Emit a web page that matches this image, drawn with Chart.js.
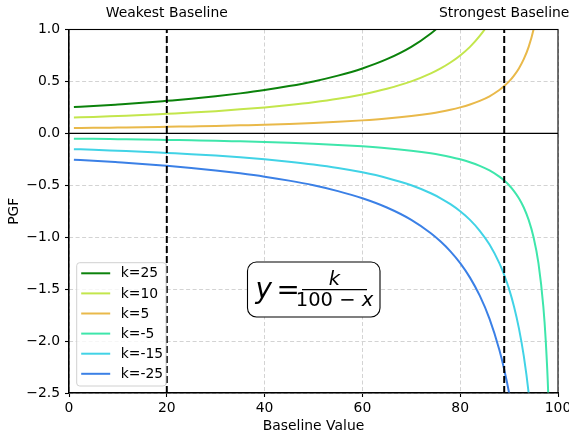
<!DOCTYPE html>
<html><head><meta charset="utf-8">
<script src="https://cdn.jsdelivr.net/npm/chart.js@4/dist/chart.umd.min.js"></script>
<style>html,body{margin:0;padding:0;background:#fff;}#wrap{width:569px;height:438px;}</style>
</head><body><div id="wrap"><canvas id="c" width="569" height="438"></canvas></div>
<script>
// Baseline values (x) sampled along the curves
const xs = [1,5,10,15,20,25,30,35,40,45,50,55,60,65,70,74,76,78,80,82,84,86,88,89,90,91,92,93,94,95,96,97,97.5,98,98.5,99];
// PGF values
const k25  = [0.253,0.263,0.278,0.294,0.313,0.333,0.357,0.385,0.417,0.455,0.5,0.556,0.625,0.714,0.833,0.962,1.042,1.136,1.25,1.389,1.563,1.786,2.083,2.273,2.5,2.778,3.125,3.571,4.167,5,6.25,8.333,10,12.5,16.67,25];
const k10  = [0.152,0.158,0.167,0.176,0.188,0.2,0.214,0.231,0.25,0.273,0.3,0.333,0.375,0.429,0.5,0.577,0.625,0.682,0.75,0.833,0.938,1.071,1.25,1.364,1.5,1.667,1.875,2.143,2.5,3,3.75,5,6,7.5,10,15];
const k5   = [0.051,0.053,0.056,0.059,0.063,0.067,0.071,0.077,0.083,0.091,0.1,0.111,0.125,0.143,0.167,0.192,0.208,0.227,0.25,0.278,0.313,0.357,0.417,0.455,0.5,0.556,0.625,0.714,0.833,1,1.25,1.667,2,2.5,3.333,5];
const km5  = [-0.051,-0.053,-0.056,-0.059,-0.063,-0.067,-0.071,-0.077,-0.083,-0.091,-0.1,-0.111,-0.125,-0.143,-0.167,-0.192,-0.208,-0.227,-0.25,-0.278,-0.313,-0.357,-0.417,-0.455,-0.5,-0.556,-0.625,-0.714,-0.833,-1,-1.25,-1.667,-2,-2.5,-3.333,-5];
const km15 = [-0.152,-0.158,-0.167,-0.176,-0.188,-0.2,-0.214,-0.231,-0.25,-0.273,-0.3,-0.333,-0.375,-0.429,-0.5,-0.577,-0.625,-0.682,-0.75,-0.833,-0.938,-1.071,-1.25,-1.364,-1.5,-1.667,-1.875,-2.143,-2.5,-3,-3.75,-5,-6,-7.5,-10,-15];
const km25 = [-0.253,-0.263,-0.278,-0.294,-0.313,-0.333,-0.357,-0.385,-0.417,-0.455,-0.5,-0.556,-0.625,-0.714,-0.833,-0.962,-1.042,-1.136,-1.25,-1.389,-1.563,-1.786,-2.083,-2.273,-2.5,-2.778,-3.125,-3.571,-4.167,-5,-6.25,-8.333,-10,-12.5,-16.67,-25];
const seriesLabels = ['k=25','k=10','k=5','k=-5','k=-15','k=-25'];
const seriesColors = ['#0b820b','#c3e64c','#e9b94a','#3ee6ab','#41d3e6','#3b80e6'];
const baselineX = [20, 89];
const baselineNames = ['Weakest Baseline','Strongest Baseline'];
const yTicks = [1.0,0.5,0.0,-0.5,-1.0,-1.5,-2.0,-2.5];
const xTicks = [0,20,40,60,80,100];

const FONT = 'DejaVu Sans';
const FS = 13.9;
const allSeries = [k25,k10,k5,km5,km15,km25];
const datasets = allSeries.map((arr,i)=>({
  label: seriesLabels[i],
  data: xs.map((x,j)=>({x:x,y:arr[j]})),
  borderColor: seriesColors[i], borderWidth: 2, pointRadius: 0, cubicInterpolationMode:'monotone', fill:false, order: 2
}));
baselineX.forEach((bx)=>{
  datasets.push({label:'_v', data:[{x:bx,y:yTicks[yTicks.length-1]},{x:bx,y:yTicks[0]}],
    borderColor:'#000', borderWidth:2, borderDash:[7,3], pointRadius:0, order:0});
});
datasets.push({label:'_h', data:[{x:xTicks[0],y:0},{x:xTicks[xTicks.length-1],y:0}],
  borderColor:'#000', borderWidth:1.3, pointRadius:0, order:1});

const zeroPad = s => { s.paddingLeft=0; s.paddingRight=0; s.paddingTop=0; s.paddingBottom=0; };

const overlay = {
  id:'overlay',
  afterDatasetsDraw(chart){
    const ctx=chart.ctx, a=chart.chartArea;
    ctx.save();
    ctx.lineWidth=1.1; ctx.strokeStyle='#000';
    ctx.strokeRect(a.left, a.top, a.right-a.left, a.bottom-a.top);
    ctx.restore();
  },
  afterDraw(chart){
    const ctx=chart.ctx, a=chart.chartArea;
    ctx.save();
    // legend
    const lx=a.left+7.7, ly=a.top+233.2, lw=89.3, lh=123.3;
    ctx.beginPath(); ctx.roundRect(lx,ly,lw,lh,3);
    ctx.fillStyle='rgba(255,255,255,0.8)'; ctx.fill();
    ctx.strokeStyle='#d0d0d0'; ctx.lineWidth=1; ctx.stroke();
    ctx.font = FS+'px "'+FONT+'"'; ctx.textBaseline='middle'; ctx.textAlign='left';
    seriesLabels.forEach((lab,i)=>{
      const y=ly+10.6+i*20.1;
      ctx.beginPath(); ctx.moveTo(lx+4.5,y); ctx.lineTo(lx+33.5,y);
      ctx.strokeStyle=seriesColors[i]; ctx.lineWidth=2; ctx.stroke();
      ctx.fillStyle='#000'; ctx.fillText(lab, lx+44, y+0.5);
    });
    // formula box
    const bx=a.left+178.5, by=a.top+232.5, bw=132.5, bh=55;
    ctx.beginPath(); ctx.roundRect(bx,by,bw,bh,9);
    ctx.fillStyle='#fff'; ctx.fill(); ctx.strokeStyle='#000'; ctx.lineWidth=1.1; ctx.stroke();
    const cy = by+27.6;
    ctx.fillStyle='#000'; ctx.textBaseline='alphabetic';
    ctx.font='italic 27.8px "'+FONT+'"'; ctx.textAlign='left';
    ctx.fillText('y', bx+8, cy+8);
    ctx.font='27.8px "'+FONT+'"';
    ctx.fillText('=', bx+29, cy+9.5);
    // fraction
    const fx0=bx+54.5, fx1=bx+119.5;
    ctx.beginPath(); ctx.moveTo(fx0,cy); ctx.lineTo(fx1,cy); ctx.lineWidth=1.4; ctx.stroke();
    const fmid=(fx0+fx1)/2;
    ctx.font='italic 19.5px "'+FONT+'"'; ctx.textAlign='center';
    ctx.fillText('k', fmid, cy-4.5);
    ctx.textAlign='left';
    ctx.font='19.5px "'+FONT+'"';
    const t1='100', t2=' \u2212 ';
    const w1=ctx.measureText(t1).width, w2=ctx.measureText(t2).width;
    ctx.font='italic 19.5px "'+FONT+'"';
    const w3=ctx.measureText('x').width;
    let sx = fmid-(w1+w2+w3)/2;
    ctx.font='19.5px "'+FONT+'"';
    ctx.fillText(t1, sx, cy+16.5); ctx.fillText(t2, sx+w1, cy+16.5);
    ctx.font='italic 19.5px "'+FONT+'"';
    ctx.fillText('x', sx+w1+w2, cy+16.5);
    ctx.restore();
  }
};

new Chart(document.getElementById('c'), {
  type:'line',
  data:{datasets},
  options:{
    responsive:false, animation:false, devicePixelRatio:1,
    layout:{padding:{left:0,right:11,top:0,bottom:0}},
    plugins:{legend:{display:false}, tooltip:{enabled:false}},
    scales:{
      x:{type:'linear', position:'bottom', min:xTicks[0], max:xTicks[xTicks.length-1],
        afterBuildTicks:(s)=>{ s.ticks = xTicks.map(v=>({value:v})); },
        ticks:{font:{family:FONT,size:FS}, color:'#000', padding:3, maxRotation:0, autoSkip:false, callback:v=>String(v)},
        grid:{color:'#d3d3d3', lineWidth:1, tickColor:'#000', tickLength:4, tickWidth:1.1},
        border:{display:true, color:'#000', width:1.1, dash:[4,2.5]},
        title:{display:true, text:'Baseline Value', font:{family:FONT,size:FS}, color:'#000', padding:{top:0,bottom:3}},
        afterFit:(s)=>{ s.height=45; zeroPad(s); }
      },
      x2:{type:'linear', position:'top', min:xTicks[0], max:xTicks[xTicks.length-1],
        afterBuildTicks:(s)=>{ s.ticks = baselineX.map(v=>({value:v})); },
        ticks:{font:{family:FONT,size:FS}, color:'#000', padding:8, maxRotation:0, minRotation:0, autoSkip:false,
          callback:(v)=>{ const i=baselineX.indexOf(v); return i>=0?baselineNames[i]:''; }},
        grid:{display:false, drawTicks:false, drawOnChartArea:false},
        border:{display:false},
        afterFit:(s)=>{ s.height=29.5; zeroPad(s); }
      },
      y:{type:'linear', min:yTicks[yTicks.length-1], max:yTicks[0],
        afterBuildTicks:(s)=>{ s.ticks = yTicks.map(v=>({value:v})); },
        ticks:{font:{family:FONT,size:FS}, color:'#000', padding:5,
          callback:v=>{ const s=Math.abs(v).toFixed(1); return v<0?'\u2212'+s:s; }},
        grid:{color:'#d3d3d3', lineWidth:1, tickColor:'#000', tickLength:4, tickWidth:1.1},
        border:{display:true, color:'#000', width:1.1, dash:[4,2.5]},
        title:{display:true, text:'PGF', font:{family:FONT,size:FS}, color:'#000', padding:{top:6,bottom:0}},
        afterFit:(s)=>{ s.width=69; zeroPad(s); }
      }
    }
  },
  plugins:[overlay]
});
</script>
</body></html>
